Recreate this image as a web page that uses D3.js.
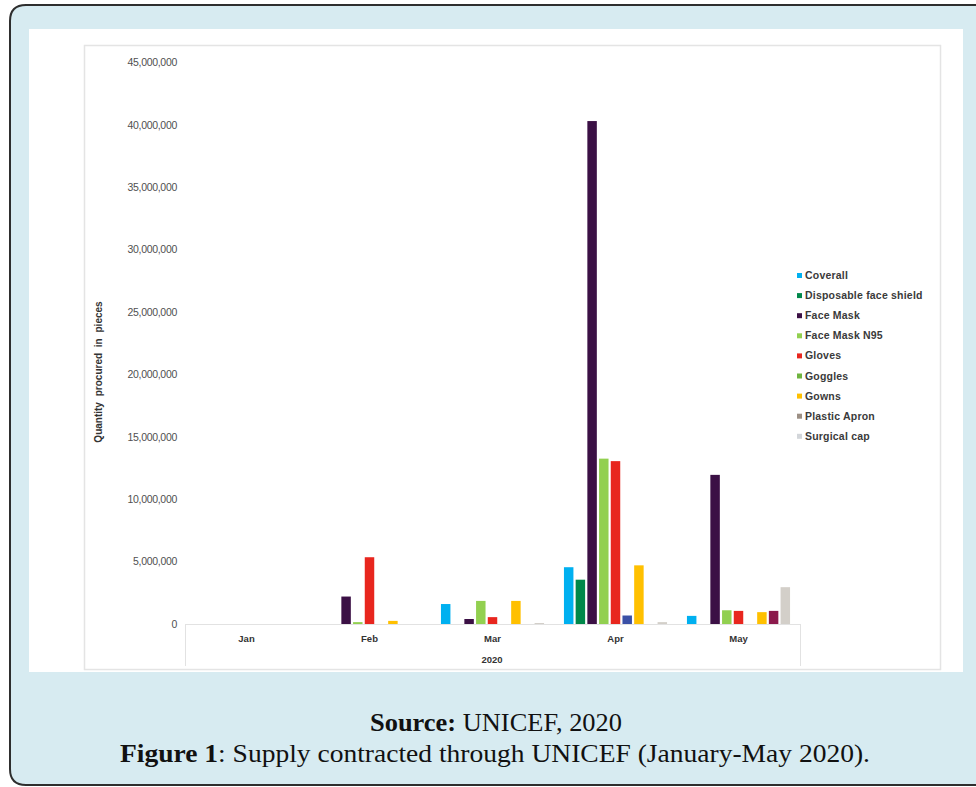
<!DOCTYPE html>
<html>
<head>
  <meta charset="utf-8">
  <title>Supply contracted through UNICEF</title>
  <style>
    body { margin: 0; background: #fff; overflow: hidden; }
    svg { display: block; }
  </style>
</head>
<body>
  <script src="https://cdn.jsdelivr.net/npm/d3@7"></script>
  <script>
    // months on the x axis
    var months = ["Jan", "Feb", "Mar", "Apr", "May"];
    var series = ["Coverall", "Disposable face shield", "Face Mask", "Face Mask N95",
      "Gloves", "Goggles", "Gowns", "Plastic Apron", "Surgical cap"];

    // quantities per month (Jan..May)
    var coverall = [0, 0, 1600000, 4550000, 650000];
    var faceShield = [0, 0, 0, 3550000, 0];
    var faceMask = [0, 2200000, 400000, 40300000, 11950000];
    var faceMaskN95 = [0, 150000, 1850000, 13250000, 1100000];
    var gloves = [0, 5350000, 550000, 13050000, 1050000];
    var goggles = [0, 0, 0, 680000, 0];
    var gowns = [0, 250000, 1850000, 4700000, 950000];
    var plasticApron = [0, 0, 0, 0, 1050000];
    var surgicalCap = [0, 0, 80000, 150000, 2950000];

    var yTicks = [0, 5000000, 10000000, 15000000, 20000000, 25000000, 30000000, 35000000, 40000000, 45000000];

    var barColors = ["#00b0f0", "#00884a", "#3b1045", "#92d050", "#e8261e", "#3b50a6", "#ffc000", "#8c1a4c", "#d3cfc9"];
    var legendColors = ["#00b0f0", "#00884a", "#3b1045", "#92d050", "#e8261e", "#6fb43f", "#ffc000", "#9c8f84", "#d3d6da"];

    var values = [coverall, faceShield, faceMask, faceMaskN95, gloves, goggles, gowns, plasticApron, surgicalCap];

    var W = 976, H = 787;
    var svg = d3.select("body").append("svg")
      .attr("width", W)
      .attr("height", H);

    // outer page frame: open on the right, it runs off the page
    svg.append("path")
      .attr("d", "M" + W + ",5 H26 Q10,5 10,21 V769 Q10,785 26,785 H" + W + " Z")
      .attr("fill", "#d7ebf1")
      .attr("stroke", "none");
    svg.append("path")
      .attr("d", "M" + (W + 2) + ",5 H26 Q10,5 10,21 V769 Q10,785 26,785 H" + (W + 2))
      .attr("fill", "none")
      .attr("stroke", "#2e2e2e")
      .attr("stroke-width", 2);

    // white image panel
    svg.append("rect")
      .attr("x", 29).attr("y", 29)
      .attr("width", 934).attr("height", 643)
      .attr("fill", "#ffffff");

    // light chart border
    svg.append("rect")
      .attr("x", 84.5).attr("y", 45.5)
      .attr("width", 856).attr("height", 624)
      .attr("fill", "none")
      .attr("stroke", "#e4e4e4")
      .attr("stroke-width", 1.5);

    var x0 = d3.scaleBand()
      .domain(months)
      .range([185, 800]);

    var x1 = d3.scaleBand()
      .domain(series)
      .range([0, x0.bandwidth()])
      .paddingInner(0.19)
      .paddingOuter(0.85);

    var y = d3.scaleLinear()
      .domain([0, 45000000])
      .range([624, 62.4]);

    // y axis labels
    var yAxis = d3.axisLeft(y)
      .tickValues(yTicks)
      .tickSize(0)
      .tickPadding(8)
      .tickFormat(d3.format(","));
    var gy = svg.append("g")
      .attr("transform", "translate(185,0)")
      .call(yAxis);
    gy.select(".domain").remove();
    gy.selectAll("text")
      .attr("font-family", "Liberation Sans, Arial, sans-serif")
      .attr("font-size", 10.5)
      .attr("letter-spacing", -0.3)
      .attr("fill", "#505050");

    svg.append("text")
      .attr("transform", "translate(102,372) rotate(-90)")
      .attr("text-anchor", "middle")
      .attr("font-family", "Liberation Sans, Arial, sans-serif")
      .attr("font-size", 10)
      .attr("font-weight", "bold")
      .attr("word-spacing", 3)
      .attr("fill", "#333")
      .text("Quantity procured in pieces");

    // bars
    var groups = svg.selectAll(".month")
      .data(months)
      .enter()
      .append("g")
      .attr("class", "month")
      .attr("transform", function (d) { return "translate(" + x0(d) + ",0)"; });

    groups.selectAll("rect")
      .data(function (m, i) {
        return series.map(function (s, j) { return { s: s, j: j, v: values[j][i] }; });
      })
      .enter()
      .append("rect")
      .attr("x", function (d) { return x1(d.s); })
      .attr("y", function (d) { return y(d.v); })
      .attr("width", x1.bandwidth())
      .attr("height", function (d) { return y(0) - y(d.v); })
      .attr("fill", function (d) { return barColors[d.j]; });

    // category axis (two levels)
    svg.append("line")
      .attr("x1", 185).attr("x2", 800)
      .attr("y1", 624.5).attr("y2", 624.5)
      .attr("stroke", "#e2e2e2");
    svg.selectAll(".sep")
      .data([185, 800])
      .enter()
      .append("line")
      .attr("x1", function (d) { return d + 0.5; })
      .attr("x2", function (d) { return d + 0.5; })
      .attr("y1", 624).attr("y2", 666)
      .attr("stroke", "#e2e2e2");

    svg.selectAll(".mlabel")
      .data(months)
      .enter()
      .append("text")
      .attr("x", function (d) { return x0(d) + x0.bandwidth() / 2; })
      .attr("y", 642)
      .attr("text-anchor", "middle")
      .attr("font-family", "Liberation Sans, Arial, sans-serif")
      .attr("font-size", 9.5)
      .attr("font-weight", "bold")
      .attr("fill", "#333")
      .text(function (d) { return d; });

    svg.append("text")
      .attr("x", 492)
      .attr("y", 663)
      .attr("text-anchor", "middle")
      .attr("font-family", "Liberation Sans, Arial, sans-serif")
      .attr("font-size", 9.5)
      .attr("font-weight", "bold")
      .attr("fill", "#333")
      .text("2020");

    // legend
    var legend = svg.selectAll(".legend")
      .data(series)
      .enter()
      .append("g")
      .attr("class", "legend")
      .attr("transform", function (d, i) { return "translate(797," + (279 + i * 20.1) + ")"; });
    legend.append("rect")
      .attr("x", 0).attr("y", -6)
      .attr("width", 5).attr("height", 5)
      .attr("fill", function (d, i) { return legendColors[i]; });
    legend.append("text")
      .attr("x", 8)
      .attr("y", 0)
      .attr("font-family", "Liberation Sans, Arial, sans-serif")
      .attr("font-size", 10.5)
      .attr("letter-spacing", 0.2)
      .attr("font-weight", "bold")
      .attr("fill", "#3a3a3a")
      .text(function (d) { return d; });

    // caption
    var src = svg.append("text")
      .attr("x", 496)
      .attr("y", 731)
      .attr("text-anchor", "middle")
      .attr("font-family", "Liberation Serif, serif")
      .attr("font-size", 26)
      .attr("textLength", 252)
      .attr("lengthAdjust", "spacingAndGlyphs")
      .attr("fill", "#111");
    src.append("tspan").attr("font-weight", "bold").text("Source:");
    src.append("tspan").text(" UNICEF, 2020");

    var fig = svg.append("text")
      .attr("x", 495)
      .attr("y", 762)
      .attr("text-anchor", "middle")
      .attr("font-family", "Liberation Serif, serif")
      .attr("font-size", 26)
      .attr("textLength", 750)
      .attr("lengthAdjust", "spacingAndGlyphs")
      .attr("fill", "#111");
    fig.append("tspan").attr("font-weight", "bold").text("Figure 1");
    fig.append("tspan").text(": Supply contracted through UNICEF (January-May 2020).");
  </script>
</body>
</html>
